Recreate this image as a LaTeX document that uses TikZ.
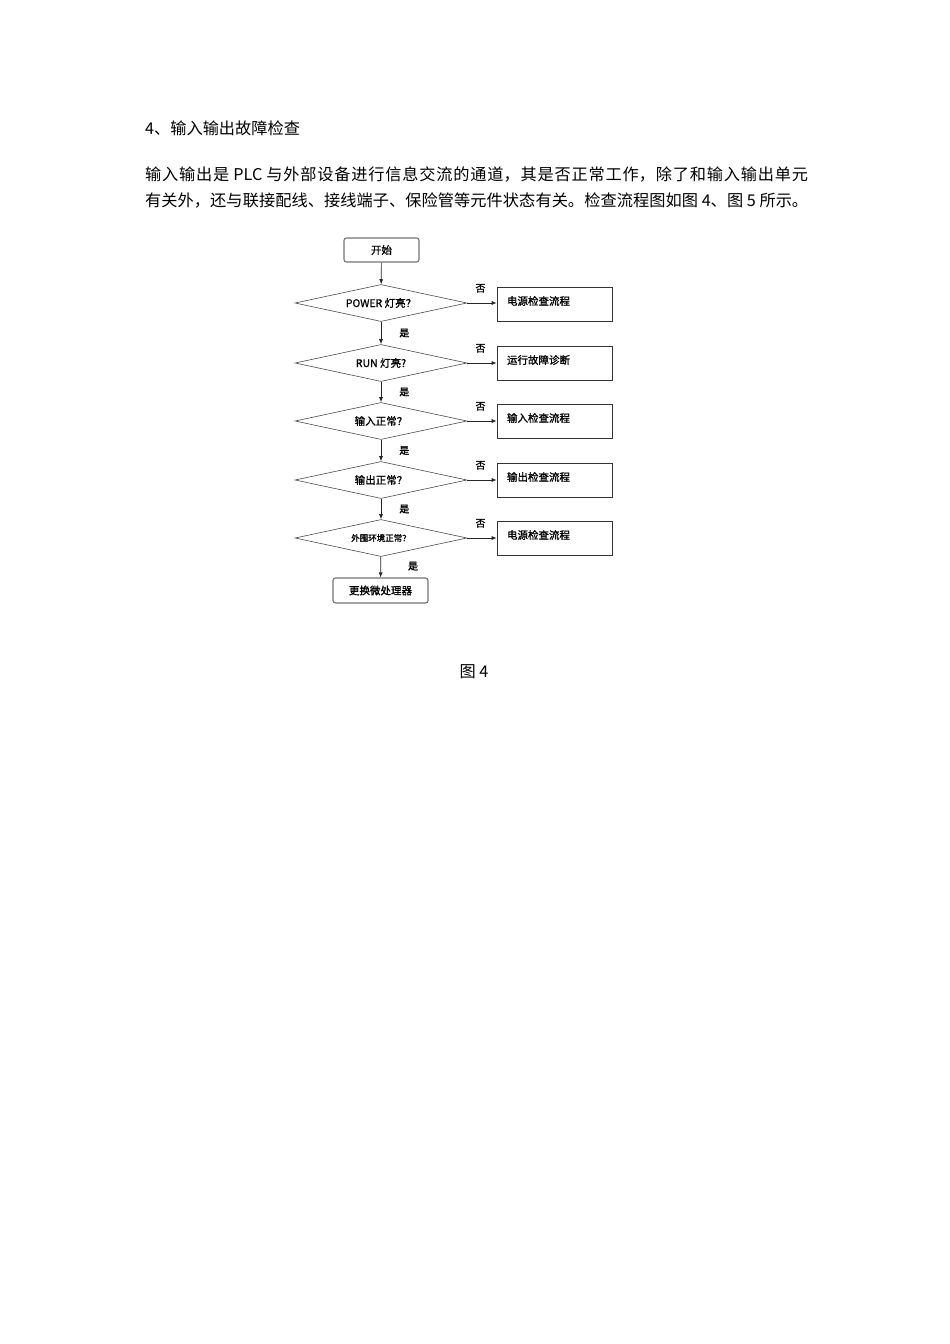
\documentclass[tikz,border=0pt]{standalone}
\usepackage{fontspec}
\newfontfamily\cjk{Noto Sans CJK SC}
\newfontfamily\cjkb[FakeBold=1.2]{Noto Sans CJK SC}
\usetikzlibrary{shapes.geometric,arrows.meta}
\XeTeXlinebreaklocale "zh"
\XeTeXlinebreakskip=0pt plus 4pt
\begin{document}
\begin{tikzpicture}[x=1pt,y=-1pt,
  bodytext/.style={anchor=base west,inner sep=0pt,font=\cjk\fontsize{16.2}{26}\selectfont},
  flowline/.style={draw=black!85,line width=0.7pt,-{Latex[length=5pt,width=4pt]}},
  termbox/.style={draw=black!55,rounded corners=2.5pt,line width=1.1pt,inner sep=0pt,
    font=\cjkb\fontsize{10.5}{12}\selectfont},
  decision/.style={diamond,aspect=4.65,draw=black!70,line width=0.6pt,minimum width=172pt,
    minimum height=37pt,inner sep=0pt,font=\cjkb\fontsize{10.5}{12}\selectfont},
  procbox/.style={draw=black!80,line width=0.7pt,text width=95pt,inner xsep=10pt,
    inner ysep=2pt,text height=16pt,text depth=14pt,align=left,
    font=\cjkb\fontsize{10.5}{12}\selectfont},
  lab/.style={inner sep=0pt,font=\cjkb\fontsize{10}{12}\selectfont}
]
\useasboundingbox (0,0) rectangle (950,1344);

% text above
\node[bodytext] (head) at (145,134) {4、输入输出故障检查};
\node[bodytext,text width=663pt,align=justify] (para) at (145,180) {输入输出是 PLC 与外部设备进行信息交流的通道，其是否正常工作，除了和输入输出单元\linebreak 有关外，还与联接配线、接线端子、保险管等元件状态有关。检查流程图如图 4、图 5 所示。\linebreak};

% flowchart
\node[termbox,minimum width=75pt,minimum height=24pt] (start) at (381.5,250) {开始};
\node[decision] (d1) at (381,303) {POWER 灯亮？};
\node[decision] (d2) at (381,363) {RUN 灯亮?};
\node[decision] (d3) at (381,421) {输入正常？};
\node[decision] (d4) at (381,480) {输出正常？};
\node[decision,font=\cjkb\fontsize{8.5}{10}\selectfont] (d5) at (381,538) {外围环境正常？};
\node[termbox,minimum width=95pt,minimum height=25pt] (stop) at (380.5,590.5) {更换微处理器};

\node[procbox] (b1) at (554.5,304) {电源检查流程};
\node[procbox] (b2) at (554.5,363) {运行故障诊断};
\node[procbox] (b3) at (554.5,421) {输入检查流程};
\node[procbox] (b4) at (554.5,480) {输出检查流程};
\node[procbox] (b5) at (554.5,538) {电源检查流程};

\draw[flowline] (start) -- (d1);
\draw[flowline] (d1) -- node[lab,pos=0.5,right=18pt] {是} (d2);
\draw[flowline] (d2) -- node[lab,pos=0.5,right=18pt] {是} (d3);
\draw[flowline] (d3) -- node[lab,pos=0.5,right=18pt] {是} (d4);
\draw[flowline] (d4) -- node[lab,pos=0.5,right=18pt] {是} (d5);
\draw[flowline] (d5) -- node[lab,pos=0.45,right=27pt] {是} (stop);

\foreach \i in {1,...,5}{
  \draw[flowline] (d\i.east) -- node[lab,pos=0.45,above=10pt] {否} (d\i.east -| b\i.west);
}

\node[anchor=base,inner sep=0pt,font=\cjk\fontsize{16.2}{20}\selectfont] (cap) at (474,677) {图 4};
\end{tikzpicture}
\end{document}
